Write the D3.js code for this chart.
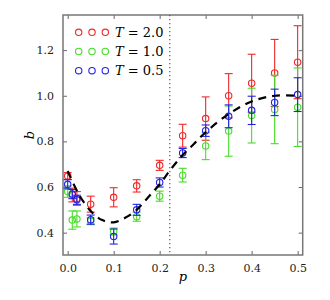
<!DOCTYPE html>
<html>
<head>
<meta charset="utf-8">
<script src="https://cdn.jsdelivr.net/npm/d3@7"></script>
<style>
body { margin: 0; background: #fff; }
text { font-family: "DejaVu Serif", "Liberation Serif", serif; }
</style>
</head>
<body>
<div id="chart"></div>
<script>
var w = 330, h = 300
var margin = {left: 63, top: 15, right: 27.3, bottom: 45}

// data
var pVals = [0, 0.01, 0.02, 0.05, 0.1, 0.15, 0.2, 0.25, 0.3, 0.35, 0.4, 0.45, 0.5]
var bT20 = [0.648, 0.565, 0.55, 0.525, 0.555, 0.605, 0.695, 0.825, 0.9, 1.0, 1.055, 1.1, 1.147]
var eT20 = [0.015, 0.03, 0.03, 0.035, 0.042, 0.027, 0.022, 0.05, 0.095, 0.097, 0.127, 0.147, 0.16]
var bT10 = [0.58, 0.455, 0.46, 0.45, 0.405, 0.47, 0.56, 0.652, 0.78, 0.845, 0.913, 0.94, 0.95]
var eT10 = [0.025, 0.04, 0.035, 0.015, 0.015, 0.02, 0.022, 0.03, 0.06, 0.11, 0.12, 0.15, 0.172]
var bT05 = [0.612, 0.569, 0.544, 0.457, 0.383, 0.50, 0.62, 0.749, 0.847, 0.91, 0.936, 0.971, 1.005]
var eT05 = [0.02, 0.02, 0.02, 0.02, 0.033, 0.024, 0.02, 0.02, 0.025, 0.05, 0.062, 0.058, 0.074]

// dashed fit curve
var fitP = [0, 0.025, 0.05, 0.075, 0.1, 0.125, 0.15, 0.175, 0.2, 0.225, 0.25, 0.275, 0.3, 0.35, 0.4, 0.45, 0.5]
var fitB = [0.67, 0.565, 0.495, 0.455, 0.445, 0.465, 0.50, 0.555, 0.612, 0.68, 0.74, 0.79, 0.84, 0.92, 0.975, 1.0, 1.0]

var pCrit = 0.222
var xTicks = [0, 0.1, 0.2, 0.3, 0.4, 0.5]
var yTicks = [0.4, 0.6, 0.8, 1.0, 1.2]
var seriesNames = ["T = 2.0", "T = 1.0", "T = 0.5"]
var seriesTemps = ["2.0", "1.0", "0.5"]
var colours = ["#f02828", "#46dc28", "#2323e6"]

var series = [
	{b: bT20, e: eT20, c: colours[0]},
	{b: bT10, e: eT10, c: colours[1]},
	{b: bT05, e: eT05, c: colours[2]}
]

var svg = d3.select("#chart")
	.append("svg")
	.attr("width", w)
	.attr("height", h)

var x = d3.scaleLinear()
	.domain([-0.0102, 0.511])
	.range([margin.left, w - margin.right])

var y = d3.scaleLinear()
	.domain([0.302, 1.354])
	.range([h - margin.bottom, margin.top])

var x0 = margin.left, x1 = w - margin.right
var y0 = h - margin.bottom, y1 = margin.top

// axes, ticks inward
var fmt = d3.format(".1f")
var axG = svg.append("g")

axG.append("g")
	.attr("transform", "translate(0," + y0 + ")")
	.call(d3.axisBottom(x).tickValues(xTicks).tickFormat(fmt).tickSizeInner(-4).tickSizeOuter(0).tickPadding(9))
axG.append("g")
	.attr("transform", "translate(0," + y1 + ")")
	.call(d3.axisTop(x).tickValues(xTicks).tickFormat("").tickSizeInner(-4).tickSizeOuter(0))
axG.append("g")
	.attr("transform", "translate(" + x0 + ",0)")
	.call(d3.axisLeft(y).tickValues(yTicks).tickFormat(fmt).tickSizeInner(-4).tickSizeOuter(0).tickPadding(9))
axG.append("g")
	.attr("transform", "translate(" + x1 + ",0)")
	.call(d3.axisRight(y).tickValues(yTicks).tickFormat("").tickSizeInner(-4).tickSizeOuter(0))

axG.selectAll(".domain").remove()
axG.selectAll(".tick line").style("stroke", "#666").style("stroke-width", 1)
axG.selectAll(".tick text")
	.style("font-family", "'DejaVu Serif', serif")
	.style("font-size", "11px")
	.style("fill", "#222")

svg.append("rect")
	.attr("x", x0).attr("y", y1)
	.attr("width", x1 - x0).attr("height", y0 - y1)
	.style("fill", "none")
	.style("stroke", "#777")
	.style("stroke-width", 1.5)

// axis labels
svg.append("text")
	.attr("x", (x0 + x1) / 2)
	.attr("y", 281)
	.attr("text-anchor", "middle")
	.style("font-style", "italic")
	.style("font-size", "13px")
	.text("p")

svg.append("text")
	.attr("transform", "translate(34," + ((y0 + y1) / 2) + ") rotate(-90)")
	.attr("text-anchor", "middle")
	.style("font-style", "italic")
	.style("font-size", "13px")
	.text("b")

// critical p
svg.append("line")
	.attr("x1", x(pCrit)).attr("x2", x(pCrit))
	.attr("y1", y1).attr("y2", y0)
	.style("stroke", "#555")
	.style("stroke-width", 1.2)
	.style("stroke-dasharray", "1.2,2.8")

// error bars + circles
var dataG = svg.append("g")
series.forEach(function(s) {
	var pts = pVals.map(function(p, i) { return {p: p, b: s.b[i], e: s.e[i]} })
	var g = dataG.append("g")
		.style("stroke", s.c)
		.style("fill", "none")
		.style("stroke-width", 1.1)

	var bars = g.selectAll(".bar").data(pts).enter().append("g").classed("bar", true)
	bars.append("line")
		.attr("x1", function(d) {return x(d.p)})
		.attr("x2", function(d) {return x(d.p)})
		.attr("y1", function(d) {return y(d.b - d.e)})
		.attr("y2", function(d) {return y(d.b + d.e)})
	bars.append("line")
		.attr("x1", function(d) {return x(d.p) - 4})
		.attr("x2", function(d) {return x(d.p) + 4})
		.attr("y1", function(d) {return y(d.b + d.e)})
		.attr("y2", function(d) {return y(d.b + d.e)})
	bars.append("line")
		.attr("x1", function(d) {return x(d.p) - 4})
		.attr("x2", function(d) {return x(d.p) + 4})
		.attr("y1", function(d) {return y(d.b - d.e)})
		.attr("y2", function(d) {return y(d.b - d.e)})
	bars.append("circle")
		.attr("cx", function(d) {return x(d.p)})
		.attr("cy", function(d) {return y(d.b)})
		.attr("r", 3.2)
})

// fit curve
var fit = fitP.map(function(p, i) { return [p, fitB[i]] })
svg.append("path")
	.datum(fit)
	.attr("d", d3.line()
		.x(function(d) {return x(d[0])})
		.y(function(d) {return y(d[1])})
		.curve(d3.curveCatmullRom))
	.style("fill", "none")
	.style("stroke", "#000")
	.style("stroke-width", 2.2)
	.style("stroke-dasharray", "8,6")

// legend
var legG = svg.append("g")
seriesNames.forEach(function(name, i) {
	var ly = 32.3 + i * 19.2
	for (var k = 0; k < 3; k++) {
		legG.append("circle")
			.attr("cx", 78.7 + k * 13.3)
			.attr("cy", ly)
			.attr("r", 3.2)
			.style("fill", "none")
			.style("stroke", colours[i])
			.style("stroke-width", 1.1)
	}
	var t = legG.append("text")
		.attr("x", 115)
		.attr("y", ly + 4.5)
		.style("font-size", "13px")
	t.append("tspan").style("font-style", "italic").text("T")
	t.append("tspan").text(" = " + seriesTemps[i])
})
</script>
</body>
</html>
